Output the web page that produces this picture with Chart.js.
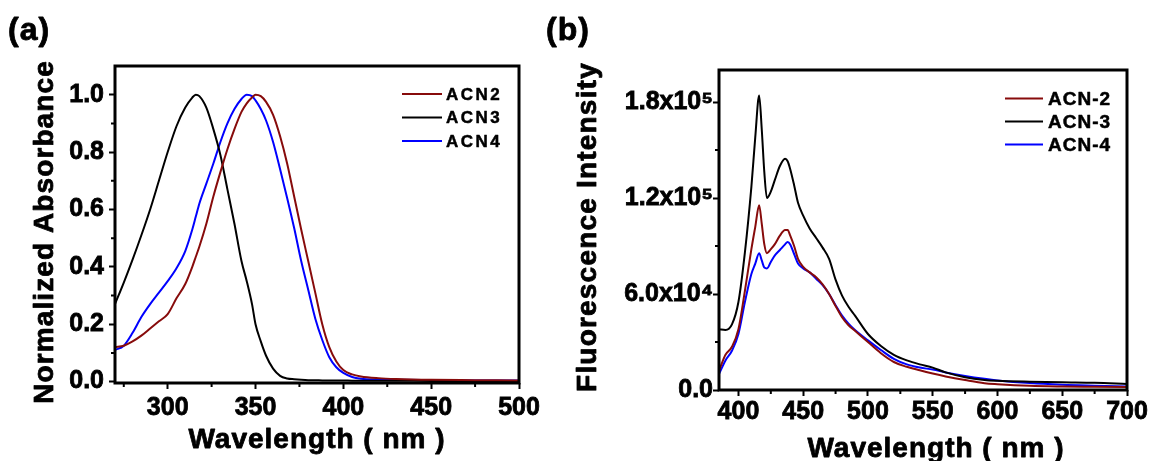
<!DOCTYPE html>
<html>
<head>
<meta charset="utf-8">
<script src="https://cdn.jsdelivr.net/npm/chart.js@4.4.1/dist/chart.umd.min.js"></script>
<style>
  html, body { margin: 0; padding: 0; background: #fff; }
  #wrap { position: relative; width: 1153px; height: 461px; overflow: hidden; }
  canvas { position: absolute; top: 0; }
  #absChart { left: 0; }
  #flChart { left: 545px; }
</style>
</head>
<body>
<div id="wrap">
  <canvas id="absChart" width="545" height="461"></canvas>
  <canvas id="flChart" width="608" height="461"></canvas>
</div>
<script>
const FONT = '"Liberation Sans", Arial, sans-serif';

// (a) normalized absorbance
const absWavelength = [270, 275, 280, 285, 290, 295, 300, 305, 310, 314, 316, 318, 322, 326, 330, 334, 338, 342, 345, 348, 350, 353, 356, 360, 364, 368, 372, 376, 380, 384, 388, 392, 396, 400, 405, 410, 420, 430, 450, 475, 500];
const absACN2 = [0.12, 0.125, 0.14, 0.16, 0.185, 0.21, 0.235, 0.29, 0.34, 0.40, 0.435, 0.47, 0.55, 0.645, 0.73, 0.81, 0.88, 0.94, 0.97, 0.99, 1.0, 0.995, 0.975, 0.93, 0.855, 0.76, 0.645, 0.53, 0.42, 0.31, 0.2, 0.12, 0.07, 0.04, 0.025, 0.018, 0.012, 0.009, 0.006, 0.005, 0.004];
const absACN3 = [0.27, 0.345, 0.425, 0.51, 0.60, 0.70, 0.80, 0.89, 0.955, 0.99, 1.0, 0.995, 0.955, 0.88, 0.79, 0.67, 0.55, 0.42, 0.35, 0.27, 0.20, 0.14, 0.09, 0.045, 0.02, 0.011, 0.008, 0.006, 0.005, 0.005, 0.004, 0.004, 0.004, 0.004, 0.003, 0.003, 0.003, 0.003, 0.002, 0.002, 0.001];
const absACN4 = [0.11, 0.125, 0.17, 0.225, 0.27, 0.31, 0.35, 0.395, 0.455, 0.53, 0.575, 0.62, 0.69, 0.76, 0.835, 0.9, 0.95, 0.985, 1.0, 0.995, 0.98, 0.95, 0.91, 0.835, 0.74, 0.64, 0.535, 0.42, 0.32, 0.22, 0.145, 0.085, 0.05, 0.03, 0.016, 0.01, 0.007, 0.006, 0.005, 0.004, 0.004];
const absXTicks = [300, 350, 400, 450, 500];
const absXMinor = [275, 325, 375, 425, 475];
const absYTicks = [0, 0.2, 0.4, 0.6, 0.8, 1.0];
const absYMinor = [0.1, 0.3, 0.5, 0.7, 0.9];
const absNames = ['ACN2', 'ACN3', 'ACN4'];

// (b) fluorescence
const flWavelength = [385, 390, 395, 400, 405, 410, 413, 416, 418, 420, 422, 425, 428, 432, 436, 438, 440, 443, 446, 450, 455, 460, 465, 470, 475, 480, 485, 490, 500, 510, 520, 530, 540, 550, 560, 575, 590, 600, 625, 650, 675, 700];
const flACN2 = [12000, 22000, 27000, 38000, 62000, 88000, 102000, 115500, 104000, 91000, 85500, 88000, 91000, 96500, 100000, 100000, 96500, 90000, 82000, 77000, 73500, 70500, 66000, 60000, 52500, 45500, 40500, 37000, 30000, 23000, 17500, 14500, 12300, 10300, 8500, 6200, 4200, 3600, 2600, 2200, 2000, 1800];
const flACN3 = [38000, 37500, 41000, 55000, 86000, 127000, 158000, 184000, 163000, 136000, 120000, 124000, 131000, 140000, 144500, 143000, 138000, 128000, 117000, 109000, 101000, 95000, 89000, 82000, 69000, 59000, 52000, 46500, 35000, 27500, 22000, 18500, 16000, 14000, 11000, 8000, 6300, 5800, 5200, 4800, 4500, 3800];
const flACN4 = [10000, 18500, 24500, 35000, 55000, 72500, 79000, 85500, 81000, 76500, 76000, 80000, 84000, 87500, 91000, 92500, 91000, 85000, 79000, 76000, 73500, 69500, 65500, 60000, 53000, 46500, 41500, 37500, 31000, 25000, 19500, 16000, 14000, 12800, 11000, 8800, 7000, 6000, 4300, 3300, 2700, 2200];
const flXTicks = [400, 450, 500, 550, 600, 650, 700];
const flXMinor = [425, 475, 525, 575, 625, 675];
const flYTicks = [0, 60000, 120000, 180000];
const flYLabels = ['0.0', '6.0x10\u2074', '1.2x10\u2075', '1.8x10\u2075'];
const flYMinor = [30000, 90000, 150000];
const flNames = ['ACN-2', 'ACN-3', 'ACN-4'];

const seriesColors = ['#870b0b', '#000000', '#0000ff'];

function series(names, xs, ys) {
    return names.map((name, i) => ({
        label: name,
        data: xs.map((x, j) => ({ x: x, y: ys[i][j] })),
        borderColor: seriesColors[i],
        borderWidth: 2,
        pointRadius: 0,
        fill: false,
        cubicInterpolationMode: 'monotone'
    }));
}

// frame box + short minor ticks
const framePlugin = {
    id: 'frame',
    afterDatasetsDraw(chart, args, o) {
        const { ctx, chartArea: a, scales: { x, y } } = chart;
        ctx.save();
        ctx.strokeStyle = '#000';
        ctx.lineWidth = 2;
        ctx.beginPath();
        o.xMinor.forEach(v => {
            const px = x.getPixelForValue(v);
            ctx.moveTo(px, a.bottom);
            ctx.lineTo(px, a.bottom + 4);
        });
        o.yMinor.forEach(v => {
            const py = y.getPixelForValue(v);
            ctx.moveTo(a.left, py);
            ctx.lineTo(a.left - 4, py);
        });
        ctx.stroke();
        ctx.lineWidth = 3;
        ctx.strokeRect(a.left, a.top, a.right - a.left, a.bottom - a.top);
        ctx.restore();
    }
};

function heavyText(ctx, text, x, y, w) {
    ctx.lineWidth = w;
    ctx.strokeText(text, x, y);
    ctx.fillText(text, x, y);
}

// panel tag, axis titles and legend
const decorPlugin = {
    id: 'decor',
    afterDraw(chart, args, o) {
        const ctx = chart.ctx;
        ctx.save();
        ctx.fillStyle = '#000';
        ctx.strokeStyle = '#000';
        ctx.lineJoin = 'round';
        ctx.textBaseline = 'alphabetic';
        ctx.textAlign = 'left';
        ctx.font = `bold 32px ${FONT}`;
        ctx.letterSpacing = '1px';
        heavyText(ctx, o.tag, o.tagX, 40, 0.8);

        ctx.font = `bold 28px ${FONT}`;
        ctx.textAlign = 'center';
        heavyText(ctx, o.xTitle, o.xTitleX, o.xTitleY, 0.8);

        ctx.save();
        ctx.translate(o.yTitleX, o.yTitleY);
        ctx.rotate(-Math.PI / 2);
        ctx.letterSpacing = o.ySpacing + 'px';
        ctx.textBaseline = 'middle';
        heavyText(ctx, o.yTitle, 0, 0, 0.8);
        ctx.restore();

        // legend
        const lg = o.legend;
        ctx.font = `bold ${lg.size}px ${FONT}`;
        ctx.letterSpacing = lg.spacing + 'px';
        ctx.textAlign = 'left';
        ctx.textBaseline = 'middle';
        chart.data.datasets.forEach((ds, i) => {
            const yy = lg.y + i * lg.row;
            ctx.strokeStyle = ds.borderColor;
            ctx.lineWidth = 2;
            ctx.beginPath();
            ctx.moveTo(lg.x, yy);
            ctx.lineTo(lg.x + lg.len, yy);
            ctx.stroke();
            ctx.strokeStyle = '#000';
            heavyText(ctx, ds.label, lg.x + lg.len + lg.gap, yy + 1, 0.5);
        });
        ctx.restore();
    }
};

function axes(cfg) {
    const tickFont = { family: FONT, size: 25, weight: 'bold' };
    const tickBase = { color: '#000', font: tickFont, autoSkip: false,
                       textStrokeColor: '#000', textStrokeWidth: 0.8 };
    return {
        x: {
            type: 'linear',
            min: cfg.xMin, max: cfg.xMax,
            afterBuildTicks: s => { s.ticks = cfg.xTicks.map(v => ({ value: v })); },
            afterFit: s => { s.height = cfg.xHeight; },
            border: { display: false },
            grid: { drawOnChartArea: false, tickLength: 6, tickWidth: 2, tickColor: '#000' },
            ticks: Object.assign({}, tickBase, { padding: cfg.xPad, maxRotation: 0, callback: v => String(v) })
        },
        y: {
            type: 'linear',
            min: cfg.yMin, max: cfg.yMax,
            afterBuildTicks: s => { s.ticks = cfg.yTicks.map(v => ({ value: v })); },
            afterFit: s => { s.width = cfg.yWidth; },
            border: { display: false },
            grid: { drawOnChartArea: false, tickLength: 6, tickWidth: 2, tickColor: '#000' },
            ticks: Object.assign({}, tickBase, { padding: cfg.yPad, callback: cfg.yFmt })
        }
    };
}

new Chart(document.getElementById('absChart'), {
    type: 'line',
    data: { datasets: series(absNames, absWavelength, [absACN2, absACN3, absACN4]) },
    options: {
        responsive: false,
        animation: false,
        layout: { padding: { top: 66, right: 26, left: 0, bottom: 0 } },
        scales: axes({
            xMin: 270, xMax: 500, xTicks: absXTicks, xHeight: 78, xPad: 4,
            yMin: -0.005, yMax: 1.1, yTicks: absYTicks, yWidth: 115, yPad: 5,
            yFmt: v => v.toFixed(1)
        }),
        plugins: {
            legend: { display: false },
            tooltip: { enabled: false },
            frame: { xMinor: absXMinor, yMinor: absYMinor },
            decor: {
                tag: '(a)', tagX: 8,
                xTitle: 'Wavelength ( nm )', xTitleX: 317, xTitleY: 448,
                yTitle: 'Normalized Absorbance', yTitleX: 45, yTitleY: 232, ySpacing: 1.1,
                legend: { x: 402, y: 94, row: 23.5, len: 40, gap: 4, size: 17, spacing: 2.5 }
            }
        }
    },
    plugins: [framePlugin, decorPlugin]
});

new Chart(document.getElementById('flChart'), {
    type: 'line',
    data: { datasets: series(flNames, flWavelength, [flACN2, flACN3, flACN4]) },
    options: {
        responsive: false,
        animation: false,
        layout: { padding: { top: 70, right: 26, left: 0, bottom: 0 } },
        scales: axes({
            xMin: 385, xMax: 700, xTicks: flXTicks, xHeight: 71, xPad: 1,
            yMin: 0, yMax: 200000, yTicks: flYTicks, yWidth: 174, yPad: 0,
            yFmt: v => flYLabels[flYTicks.indexOf(v)]
        }),
        plugins: {
            legend: { display: false },
            tooltip: { enabled: false },
            frame: { xMinor: flXMinor, yMinor: flYMinor },
            decor: {
                tag: '(b)', tagX: 1,
                xTitle: 'Wavelength ( nm )', xTitleX: 391, xTitleY: 457,
                yTitle: 'Fluorescence Intensity', yTitleX: 43, yTitleY: 227, ySpacing: 1.2,
                legend: { x: 460, y: 98.5, row: 23, len: 38, gap: 5, size: 19, spacing: 1 }
            }
        }
    },
    plugins: [framePlugin, decorPlugin]
});
</script>
</body>
</html>
